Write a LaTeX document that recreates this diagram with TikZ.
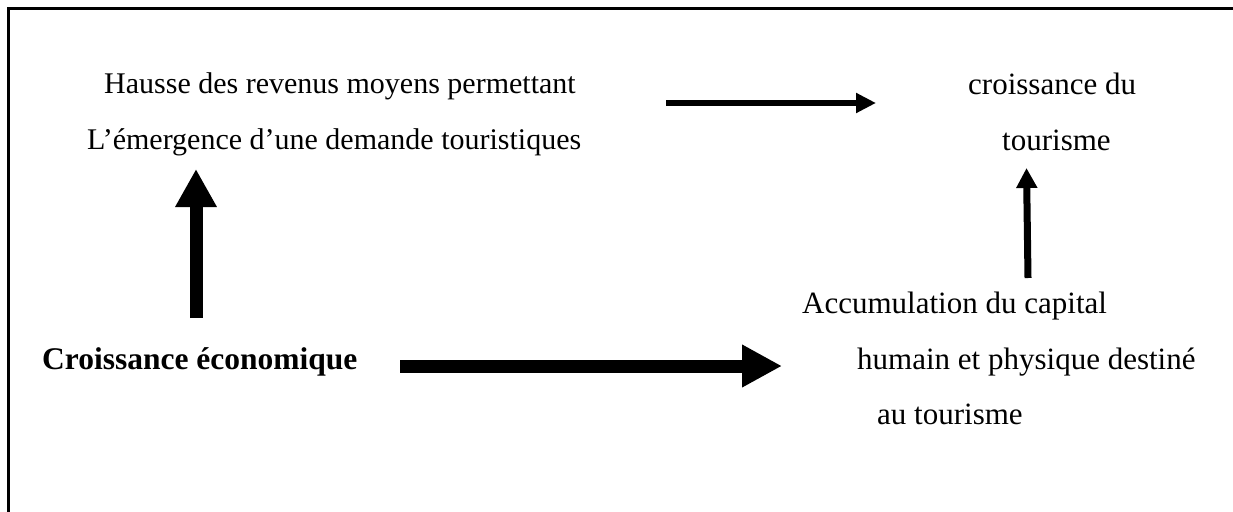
\documentclass[tikz,border=0pt]{standalone}
\usepackage{fontspec}
\setmainfont{Liberation Serif}
\usetikzlibrary{arrows.meta}
\tikzset{
  txt/.style={anchor=base west, inner sep=0pt, font=\fontsize{31}{36}\selectfont},
  txtsmall/.style={anchor=base west, inner sep=0pt, font=\fontsize{30}{36}\selectfont},
  frameline/.style={line width=3pt, line cap=rect},
  thickarrow/.style={line width=13pt, -{Triangle[length=40pt, width=40pt]}},
  thinarrow/.style={line width=6pt, -{Triangle[length=20pt, width=19pt]}},
}
\begin{document}
\begin{tikzpicture}[x=1pt,y=-1pt]
\useasboundingbox (0,0) rectangle (1233,511);
\clip (0,0) rectangle (1233,511);
\draw[frameline] (1240,9) -- (8,9) -- (8,520);
% texts
\node[txtsmall] (h1) at (104,93) {Hausse des revenus moyens permettant};
\node[txtsmall] (h2) at (87,149) {L’émergence d’une demande touristiques};
\node[txt] (c1) at (968,94) {croissance du};
\node[txt] (c2) at (1002,150) {tourisme};
\node[txt,font=\fontsize{31.5}{36}\selectfont\bfseries] (ce) at (42,369) {Croissance économique};
\node[txt] (a1) at (802,313) {Accumulation du capital};
\node[txt] (a2) at (857,369) {humain et physique destiné};
\node[txt] (a3) at (877,424) {au tourisme};
% arrow end points
\coordinate (t1) at (666,103);
\coordinate (t2) at (876,103);
\coordinate (b1) at (400,366);
\coordinate (b2) at (782,366);
\coordinate (l1) at (196,318);
\coordinate (l2) at (196,169);
\coordinate (r1) at (1028,278);
\coordinate (r2) at (1026.5,168);
\draw[thinarrow] (t1) -- (t2);
\draw[thickarrow] (b1) -- (b2);
\draw[line width=13pt, -{Triangle[length=38pt, width=39pt]}] (l1) -- (l2);
\draw[line width=7pt, -{Triangle[length=20pt, width=20pt]}] (r1) -- (r2);
\end{tikzpicture}
\end{document}
